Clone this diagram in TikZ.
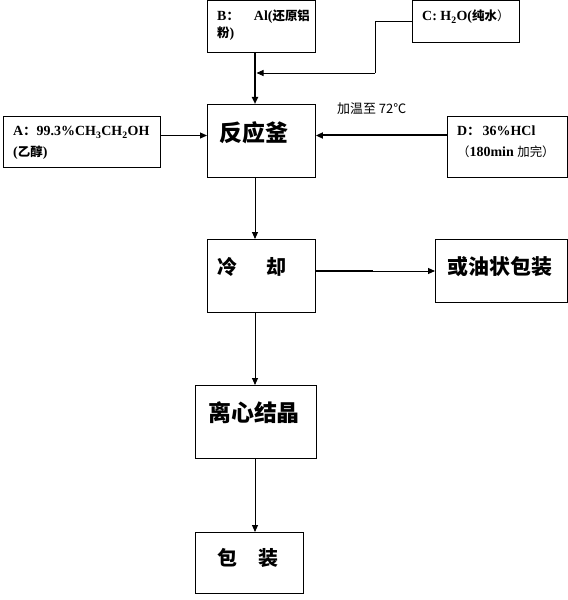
\documentclass[tikz,border=0pt]{standalone}
\usepackage{fontspec}
\setmainfont{Liberation Serif}
\newfontfamily\cjk{Noto Sans CJK SC}
\usetikzlibrary{arrows.meta}
\begin{document}
\begin{tikzpicture}[x=1bp,y=-1bp,
  box/.style={draw, line width=0.9bp, inner sep=0pt, anchor=north west},
  txt/.style={inner sep=0pt, anchor=base west, font=\bfseries\fontsize{14}{16}\selectfont},
  lbl/.style={inner sep=0pt, font=\cjk\fontsize{13}{16}\selectfont},
  big/.style={inner sep=0pt, font=\cjk\bfseries\fontsize{23}{26}\selectfont},
  mid/.style={inner sep=0pt, font=\cjk\bfseries\fontsize{20}{24}\selectfont},
  thin/.style={line width=0.9bp, -{Triangle[length=7bp,width=6bp]}},
  thick/.style={line width=2bp, -{Triangle[length=7bp,width=6bp]}},
  plain/.style={line width=0.9bp},
]
\newcommand{\zh}[1]{{\cjk\fontsize{12.5}{16}\selectfont #1}}
\newcommand{\zhm}[1]{{\cjk\mdseries\fontsize{12.5}{16}\selectfont #1}}
\useasboundingbox (0,0) rectangle (568,600);
% boxes
\node[box, minimum width=108bp, minimum height=51.5bp] (B) at (207,0.5) {};
\node[box, minimum width=107bp, minimum height=41.5bp] (C) at (412,0.5) {};
\node[box, minimum width=157bp, minimum height=51bp] (A) at (3,116) {};
\node[box, minimum width=108bp, minimum height=73bp] (R) at (207,104) {};
\node[box, minimum width=120bp, minimum height=61bp] (D) at (447,116) {};
\node[box, minimum width=108bp, minimum height=73bp] (K) at (207,239) {};
\node[box, minimum width=132bp, minimum height=63bp] (Y) at (435,239) {};
\node[box, minimum width=121bp, minimum height=73bp] (L) at (195,385) {};
\node[box, minimum width=108bp, minimum height=61bp] (P) at (195,532) {};
% texts
\node[txt] (Bt1) at (217,21) {B\zh{：}\hspace{15bp}Al(\zh{还原铝}};
\node[txt] (Bt2) at (217,38) {\zh{粉})};
\node[txt] (Ct) at (422,21) {C: H\textsubscript{2}O(\zh{纯水}\zhm{）}};
\node[txt] (At1) at (13,136) {A\zh{：}\hspace{1bp}99.3\%CH\textsubscript{3}CH\textsubscript{2}OH};
\node[txt] (At2) at (13,157) {(\zh{乙醇})};
\node[txt] (Dt1) at (457,136) {D\zh{：}\hspace{3bp}36\%HCl};
\node[txt] (Dt2) at (457,157) {\zhm{（}180min \zhm{加完）}};
\node[lbl, anchor=west] (T) at (337,109) {加温至 72℃};
\node[big] (Rt) at (254,133) {反应釜};
\node[mid] (Kt) at (252,267) {冷\hspace{30bp}却};
\node[mid, font=\cjk\bfseries\fontsize{21}{24}\selectfont] (Yt) at (500,267) {或油状包装};
\node[big] (Lt) at (254,413) {离心结晶};
\node[mid] (Pt) at (248,558) {包\hspace{21bp}装};
% helper coordinates
\coordinate (ax) at (255,0);
\coordinate (ay) at (0,135.5);
\coordinate (cx) at (375,0);
\coordinate (cj) at (256.5,73);
\coordinate (kb) at (373,271);
% connectors
\draw[thick] (B.south -| ax) -- (R.north -| ax);
\draw[plain] (C.west |- 0,21.5) -| (cx |- cj);
\draw[thin] (cx |- cj) -- (cj);
\draw[thin] (A.east |- ay) -- (R.west |- ay);
\draw[thick] (D.west |- ay) -- (R.east |- ay);
\draw[thin] (R.south -| ax) -- (K.north -| ax);
\draw[line width=2bp] (K.east |- kb) -- (kb);
\draw[thin] (kb) -- (Y.west |- kb);
\draw[thin] (K.south -| ax) -- (L.north -| ax);
\draw[thin] (L.south -| ax) -- (P.north -| ax);
\end{tikzpicture}
\end{document}
